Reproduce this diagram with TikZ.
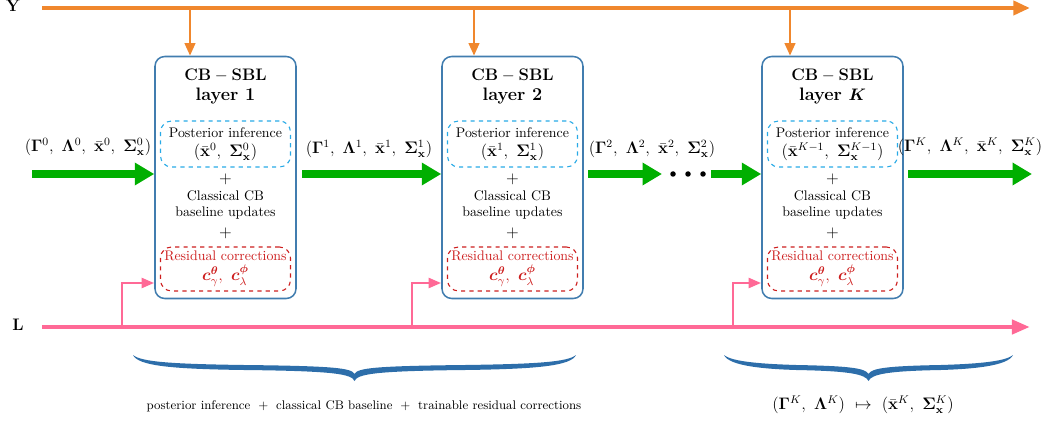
\documentclass[tikz,border=0pt]{standalone}
\usepackage{amsmath,amssymb,bm}
\usetikzlibrary{arrows.meta}
\definecolor{myorange}{RGB}{240,135,45}
\definecolor{mygreen}{RGB}{0,175,0}
\definecolor{mypink}{RGB}{255,105,150}
\definecolor{boxblue}{RGB}{65,125,175}
\definecolor{dashblue}{RGB}{40,170,230}
\definecolor{resred}{RGB}{205,30,30}
\definecolor{bracec}{RGB}{45,110,170}
\newcommand\cbrace[4]{%
 \pgfmathsetmacro\xm{(#1+#2)/2}%
 \pgfmathsetmacro\xa{(#1+\xm)/2}%
 \pgfmathsetmacro\xb{(#2+\xm)/2}%
 \fill[bracec] (#1,#3) .. controls (#1+5,#3+11) and (#1+40,#3+14) .. (\xa,#3+15)
   .. controls (\xm-20,#3+16) and (\xm-3,#3+19) .. (\xm,#4)
   .. controls (\xm+3,#3+19) and (\xm+20,#3+16) .. (\xb,#3+15)
   .. controls (#2-40,#3+14) and (#2-5,#3+11) .. (#2,#3)
   .. controls (#2-8,#3+7) and (#2-40,#3+9) .. (\xb,#3+10)
   .. controls (\xm+20,#3+11) and (\xm+3,#3+13) .. (\xm,#4-7)
   .. controls (\xm-3,#3+13) and (\xm-20,#3+11) .. (\xa,#3+10)
   .. controls (#1+40,#3+9) and (#1+8,#3+7) .. (#1,#3) -- cycle;}
\begin{document}
\begin{tikzpicture}[x=0.72pt,y=-0.72pt,
  layerbox/.style={draw=boxblue, line width=1.1pt, rounded corners=7pt, minimum width=141*0.72pt, minimum height=242*0.72pt, inner sep=0pt},
  postbox/.style={draw=dashblue, dashed, line width=0.8pt, rounded corners=8pt, minimum width=130*0.72pt, minimum height=46*0.72pt, align=center, inner sep=0pt},
  resbox/.style={draw=resred, dashed, line width=0.8pt, rounded corners=8pt, minimum width=130*0.72pt, minimum height=44*0.72pt, align=center, inner sep=0pt, text=resred},
  ttl/.style={font=\fontsize{13}{15}\selectfont\bfseries, inner sep=0pt},
  plain/.style={align=center, inner sep=0pt},
  lbl/.style={inner sep=0pt, font=\large},
  garrow/.style={draw=mygreen, line width=5.8pt, -{Triangle[length=14pt,width=15.5pt]}},
  obus/.style={draw=myorange, line width=3pt, -{Triangle[length=12pt,width=10pt]}},
  odown/.style={draw=myorange, line width=1.8pt, -{Triangle[length=9pt,width=7.5pt]}},
  pbus/.style={draw=mypink, line width=3.4pt, -{Triangle[length=13pt,width=10pt]}},
  pbranch/.style={draw=mypink, line width=2pt, -{Triangle[length=9pt,width=7pt]}},
  dot/.style={circle, fill=black, inner sep=0pt, minimum size=5.5*0.72pt}]
\useasboundingbox (0,0) rectangle (1060,423);

% buses
\node[font=\large\bfseries] (Y) at (13,6) {Y};
\node[font=\large\bfseries] (L) at (18,325) {L};
\coordinate (ys) at (42,8);
\coordinate (ye) at (1030,8);
\coordinate (ls) at (42,327);
\coordinate (le) at (1030,327);
\draw[obus] (ys) -- (ye);
\draw[pbus] (ls) -- (le);

% layers
\foreach \i/\cx/\lay/\s/\ya/\lb in {1/225.5/1/0/190/122, 2/512.5/2/1/474/412, K/832.5/{$\bm{K}$}/{K-1}/790/733}{
  \node[layerbox] (b\i) at (\cx,177.5) {};
  \node[ttl] (t\i) at (\cx,75) {$\mathbf{CB-SBL}$};
  \node[ttl] (l\i) at (\cx,96) {layer \lay};
  \node[postbox] (p\i) at (\cx,144) {Posterior inference\\[2pt] {\large$(\bar{\mathbf{x}}^{\s},\ \mathbf{\Sigma}_{\mathbf{x}}^{\s})$}};
  \node[plain, font=\large] (pa\i) at (\cx,179) {$+$};
  \node[plain] (c\i) at (\cx,205) {Classical CB\\ baseline updates};
  \node[plain, font=\large] (pb\i) at (\cx,233) {$+$};
  \node[resbox] (r\i) at (\cx,269) {Residual corrections\\[2pt] {\large$\bm{c}_{\gamma}^{\bm{\theta}},\ \bm{c}_{\lambda}^{\bm{\phi}}$}};
  \coordinate (yt\i) at (\ya,8);
  \draw[odown] (yt\i) -- (yt\i |- b\i.north);
  \coordinate (lt\i) at (\lb,327);
  \coordinate (lh\i) at (\lb,283);
  \draw[pbranch] (lt\i) -- (lh\i) -- (lh\i -| b\i.west);
}

% green flow
\coordinate (g0) at (32,174);
\draw[garrow] (g0) -- (g0 -| b1.west);
\coordinate (g1) at (302,174);
\draw[garrow] (g1) -- (g1 -| b2.west);
\coordinate (g2) at (588,174);
\coordinate (g2e) at (662,174);
\draw[garrow] (g2) -- (g2e);
\node[dot] (d1) at (673,174) {};
\node[dot] (d2) at (688,174) {};
\node[dot] (d3) at (703,174) {};
\coordinate (g3) at (711,174);
\draw[garrow] (g3) -- (g3 -| bK.west);
\coordinate (g4) at (908,174);
\coordinate (g4e) at (1032,174);
\draw[garrow] (g4) -- (g4e);

\node[lbl] (s0) at (88,147) {$(\mathbf{\Gamma}^0,\ \mathbf{\Lambda}^0,\ \bar{\mathbf{x}}^0,\ \mathbf{\Sigma}_{\mathbf{x}}^0)$};
\node[lbl] (s1) at (369,149) {$(\mathbf{\Gamma}^1,\ \mathbf{\Lambda}^1,\ \bar{\mathbf{x}}^1,\ \mathbf{\Sigma}_{\mathbf{x}}^1)$};
\node[lbl] (s2) at (652,149) {$(\mathbf{\Gamma}^2,\ \mathbf{\Lambda}^2,\ \bar{\mathbf{x}}^2,\ \mathbf{\Sigma}_{\mathbf{x}}^2)$};
\node[lbl] (sK) at (970,147) {$(\mathbf{\Gamma}^K,\ \mathbf{\Lambda}^K,\ \bar{\mathbf{x}}^K,\ \mathbf{\Sigma}_{\mathbf{x}}^K)$};

% braces
\cbrace{133}{576}{355}{381}
\cbrace{724}{1013}{355}{381}
\node[inner sep=0pt, font=\small] (n1) at (364,406) {posterior inference $\;+\;$ classical CB baseline $\;+\;$ trainable residual corrections};
\node[lbl] (n2) at (863,405) {$(\mathbf{\Gamma}^K,\ \mathbf{\Lambda}^K)\ \mapsto\ (\bar{\mathbf{x}}^K,\ \mathbf{\Sigma}_{\mathbf{x}}^K)$};
\end{tikzpicture}
\end{document}
